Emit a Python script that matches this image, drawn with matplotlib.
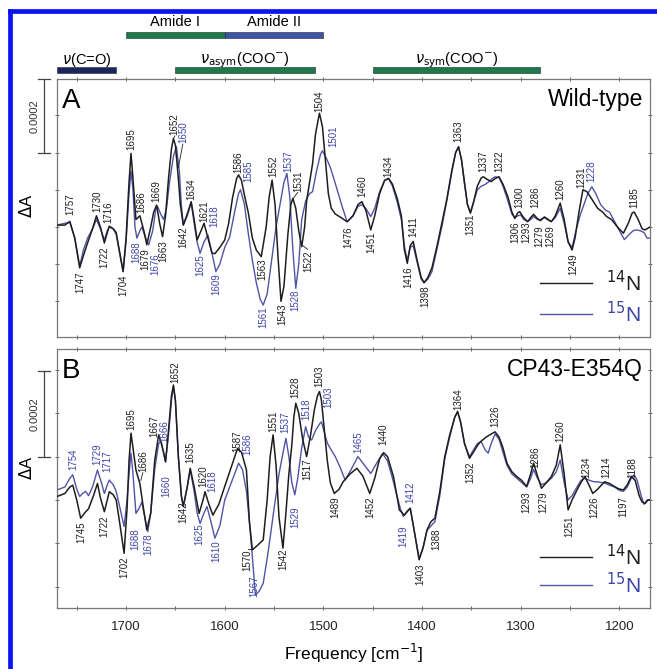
import numpy as np
import matplotlib
matplotlib.use("Agg")
from matplotlib import pyplot as plt
from matplotlib import patches, transforms

plt.rcParams["font.family"] = ["Liberation Sans", "DejaVu Sans"]
plt.rcParams["mathtext.fontset"] = "dejavusans"

# spectra, values in units of 1e-4 (delta A)
wt_freq = [1770, 1762, 1757, 1752, 1747, 1743, 1739, 1734, 1730, 1726, 1722, 1719, 1717, 1713, 1710, 1707,
           1703, 1700, 1697, 1695, 1693, 1690, 1686, 1682, 1679, 1675, 1672, 1669, 1666, 1663, 1660, 1657,
           1654, 1652, 1650, 1647, 1645, 1642, 1638, 1634, 1631, 1628, 1624, 1621, 1617, 1613, 1610, 1605,
           1600, 1596, 1592, 1588, 1586, 1583, 1580, 1576, 1572, 1568, 1563, 1558, 1555, 1552, 1549, 1546,
           1543, 1540, 1536, 1533, 1531, 1528, 1525, 1522, 1519, 1517, 1514, 1511, 1508, 1504, 1501, 1498,
           1495, 1492, 1488, 1482, 1476, 1470, 1465, 1461, 1457, 1452, 1448, 1443, 1438, 1434, 1430, 1425,
           1421, 1418, 1415, 1412, 1409, 1405, 1401, 1398, 1394, 1390, 1385, 1380, 1375, 1370, 1366, 1363,
           1360, 1357, 1354, 1351, 1348, 1344, 1340, 1338, 1334, 1330, 1326, 1322, 1318, 1313, 1309, 1306,
           1303, 1301, 1297, 1293, 1290, 1287, 1283, 1280, 1276, 1272, 1269, 1265, 1260, 1256, 1252, 1248,
           1245, 1241, 1237, 1233, 1228, 1222, 1217, 1213, 1208, 1202, 1196, 1191, 1187, 1185, 1181, 1177,
           1174, 1169]
wt_14n = [0.05, 0.05, 0.15, -0.3, -1.10, -0.75, -0.43, -0.05, 0.30, 0.0, -0.43, -0.15, 0.02, -0.05, -0.15, -0.6,
          -1.2, -0.3, 1.2, 1.98, 1.3, 0.2, 0.3, -0.1, -0.48, 0.0, 0.4, 0.59, 0.1, -0.26, 0.3, 1.3,
          2.1, 2.38, 2.2, 1.3, 0.6, 0.05, 0.35, 0.68, 0.2, -0.35, -0.1, 0.1, -0.3, -0.7, -0.72, -0.55,
          -0.35, 0.1, 0.8, 1.3, 1.40, 1.25, 0.85, 0.37, -0.3, -0.62, -0.80, 0.0, 0.8, 1.26, 0.6, -0.8,
          -2.0, -1.6, -0.2, 0.6, 0.77, 0.5, -0.1, -0.53, 0.0, 0.7, 1.2, 1.7, 2.5, 3.06, 2.7, 1.8,
          0.9, 0.5, 0.35, 0.25, 0.14, 0.3, 0.6, 0.68, 0.45, -0.08, 0.3, 0.9, 1.25, 1.31, 1.15, 0.75,
          0.3, -0.6, -0.98, -0.5, -0.39, -0.9, -1.35, -1.5, -1.35, -1.1, -0.53, 0.1, 0.73, 1.5, 2.0, 2.16,
          1.8, 1.2, 0.6, 0.37, 0.65, 1.1, 1.32, 1.35, 1.28, 1.22, 1.3, 1.35, 1.15, 0.81, 0.4, 0.23,
          0.38, 0.41, 0.25, 0.14, 0.25, 0.34, 0.22, 0.17, 0.27, 0.2, 0.14, 0.3, 0.64, 0.2, -0.4, -0.62,
          -0.3, 0.4, 1.0, 0.95, 0.75, 0.5, 0.4, 0.28, 0.2, 0.0, -0.17, 0.1, 0.38, 0.4, 0.2, -0.05,
          -0.08, 0.0]

wt15_freq = [1770, 1762, 1757, 1752, 1747, 1743, 1739, 1734, 1730, 1726, 1722, 1719, 1717, 1713, 1710, 1707,
             1703, 1700, 1697, 1695, 1693, 1691, 1689, 1686, 1684, 1680, 1677, 1673, 1670, 1668, 1665, 1662,
             1659, 1656, 1652, 1649, 1646, 1644, 1642, 1638, 1634, 1631, 1628, 1625, 1621, 1617, 1613, 1609,
             1605, 1600, 1595, 1590, 1586, 1584, 1580, 1576, 1572, 1568, 1564, 1561, 1557, 1552, 1548, 1544,
             1540, 1537, 1534, 1531, 1528, 1525, 1522, 1518, 1514, 1511, 1507, 1503, 1501, 1497, 1493, 1490,
             1485, 1481, 1476, 1470, 1465, 1461, 1457, 1452, 1448, 1443, 1438, 1434, 1430, 1425, 1421, 1418,
             1415, 1412, 1409, 1405, 1401, 1398, 1394, 1390, 1385, 1380, 1375, 1370, 1366, 1363, 1360, 1357,
             1354, 1351, 1348, 1344, 1340, 1337, 1333, 1329, 1326, 1322, 1318, 1313, 1309, 1306, 1303, 1300,
             1297, 1293, 1290, 1287, 1283, 1280, 1276, 1272, 1269, 1265, 1260, 1256, 1252, 1248, 1244, 1240,
             1236, 1232, 1228, 1224, 1219, 1214, 1210, 1205, 1200, 1195, 1190, 1186, 1183, 1179, 1175, 1172,
             1169]
wt_15n = [0.05, 0.1, 0.12, -0.3, -1.05, -0.6, -0.3, -0.05, 0.2, -0.05, -0.35, -0.1, 0.0, -0.05, -0.2, -0.65,
          -1.2, -0.4, 0.9, 1.5, 1.0, 0.0, -0.3, -0.1, 0.0, -0.3, -0.48, -0.1, 0.45, 0.55, 0.35, 0.2,
          0.5, 1.2, 1.9, 2.16, 1.5, 0.6, 0.05, 0.3, 0.65, 0.1, -0.4, -0.71, -0.4, -0.22, -0.7, -1.2,
          -1.0, -0.55, -0.27, 0.4, 0.9, 1.0, 0.6, -0.2, -0.9, -1.5, -1.95, -2.1, -1.8, -0.8, 0.0, 0.6,
          1.2, 1.44, 0.8, -0.6, -1.65, -1.0, 0.2, 0.7, 0.9, 0.95, 1.5, 1.95, 2.05, 1.85, 1.6, 1.35,
          0.9, 0.55, 0.14, 0.3, 0.55, 0.6, 0.5, 0.28, 0.5, 0.95, 1.25, 1.3, 1.1, 0.65, 0.2, -0.5,
          -0.9, -0.55, -0.5, -0.95, -1.4, -1.5, -1.4, -1.2, -0.6, 0.0, 0.7, 1.45, 2.0, 2.15, 1.8, 1.15,
          0.6, 0.4, 0.65, 1.0, 1.1, 1.13, 1.2, 1.3, 1.35, 1.33, 1.1, 0.7, 0.35, 0.25, 0.3, 0.32,
          0.2, 0.15, 0.2, 0.28, 0.2, 0.2, 0.25, 0.18, 0.15, 0.25, 0.5, 0.1, -0.4, -0.55, -0.1, 0.3,
          0.6, 0.9, 1.08, 0.9, 0.6, 0.45, 0.4, 0.15, -0.1, -0.34, -0.2, -0.1, -0.08, -0.1, -0.15, -0.3,
          -0.3]

mut_freq = [1770, 1762, 1757, 1754, 1750, 1746, 1742, 1738, 1733, 1729, 1726, 1722, 1719, 1717, 1713, 1710,
            1706, 1702, 1699, 1697, 1695, 1693, 1690, 1686, 1683, 1679, 1675, 1671, 1667, 1664, 1660, 1657,
            1654, 1652, 1650, 1647, 1644, 1642, 1638, 1635, 1631, 1626, 1622, 1620, 1616, 1612, 1606, 1599,
            1592, 1587, 1583, 1578, 1575, 1572, 1567, 1561, 1557, 1554, 1551, 1548, 1545, 1541, 1538, 1535,
            1532, 1530, 1528, 1525, 1521, 1517, 1513, 1509, 1506, 1504, 1502, 1499, 1496, 1493, 1489, 1484,
            1480, 1473, 1466, 1460, 1453, 1448, 1443, 1439, 1435, 1429, 1423, 1418, 1412, 1408, 1403, 1399,
            1395, 1391, 1387, 1382, 1377, 1372, 1367, 1364, 1361, 1357, 1352, 1348, 1344, 1341, 1335, 1330,
            1326, 1322, 1318, 1314, 1309, 1304, 1299, 1294, 1290, 1287, 1283, 1279, 1274, 1269, 1264, 1260,
            1256, 1252, 1248, 1243, 1239, 1235, 1231, 1227, 1222, 1218, 1215, 1210, 1205, 1201, 1196, 1192,
            1188, 1184, 1180, 1177, 1174, 1171, 1169]
mut_14n = [0.08, 0.15, 0.3, 0.34, 0.0, -0.42, -0.3, -0.2, 0.1, 0.38, 0.05, -0.27, 0.0, 0.19, 0.12, 0.0,
           -0.6, -1.23, -0.2, 0.9, 1.54, 1.2, 0.69, 0.38, -0.1, -0.69, -0.3, 0.9, 1.5, 1.3, 0.88, 1.6,
           2.4, 2.65, 2.3, 1.0, 0.1, -0.15, 0.3, 0.73, 0.3, -0.31, 0.0, 0.19, -0.1, -0.35, -0.1, 0.38,
           0.85, 1.19, 1.1, 0.69, -0.5, -1.15, -1.05, -0.92, 0.0, 1.0, 1.5, 0.8, -0.4, -1.11, -0.3, 0.6,
           1.27, 1.9, 2.23, 2.0, 1.4, 1.0, 1.5, 2.1, 2.4, 2.5, 2.3, 1.6, 0.9, 0.4, 0.15, 0.25,
           0.42, 0.6, 0.73, 0.55, 0.15, 0.5, 0.95, 1.09, 1.0, 0.54, -0.23, -0.35, -0.19, -0.7, -1.38, -1.1,
           -0.69, -0.5, -0.42, 0.2, 1.0, 1.5, 1.9, 2.03, 1.8, 1.3, 0.96, 1.1, 1.25, 1.34, 1.45, 1.52,
           1.57, 1.45, 1.2, 0.85, 0.65, 0.54, 0.45, 0.31, 0.6, 0.85, 0.55, 0.27, 0.4, 0.54, 0.8, 1.27,
           0.6, -0.23, 0.0, 0.23, 0.4, 0.54, 0.35, 0.15, 0.25, 0.35, 0.42, 0.38, 0.31, 0.26, 0.23, 0.35,
           0.54, 0.45, 0.1, -0.05, -0.08, 0.0, 0.0]

mut15_freq = [1770, 1762, 1757, 1754, 1750, 1747, 1744, 1741, 1738, 1734, 1729, 1725, 1722, 1719, 1717, 1713,
              1710, 1706, 1702, 1699, 1697, 1695, 1693, 1690, 1687, 1684, 1681, 1678, 1675, 1671, 1667, 1665,
              1662, 1660, 1657, 1654, 1652, 1650, 1647, 1644, 1642, 1638, 1635, 1631, 1628, 1625, 1621, 1618,
              1614, 1610, 1605, 1600, 1595, 1590, 1586, 1582, 1578, 1575, 1572, 1569, 1565, 1561, 1556, 1550,
              1545, 1540, 1538, 1535, 1532, 1529, 1526, 1522, 1518, 1515, 1512, 1508, 1504, 1502, 1499, 1496,
              1492, 1488, 1483, 1478, 1472, 1465, 1460, 1452, 1446, 1440, 1435, 1430, 1426, 1422, 1419, 1415,
              1412, 1408, 1403, 1399, 1395, 1391, 1387, 1382, 1377, 1372, 1367, 1364, 1361, 1357, 1352, 1348,
              1344, 1340, 1336, 1333, 1330, 1326, 1322, 1318, 1314, 1309, 1304, 1299, 1294, 1290, 1287, 1283,
              1279, 1274, 1269, 1264, 1260, 1256, 1252, 1248, 1243, 1239, 1235, 1230, 1226, 1222, 1218, 1214,
              1210, 1205, 1200, 1196, 1192, 1188, 1185, 1182, 1178, 1175, 1172, 1169]
mut_15n = [0.23, 0.3, 0.5, 0.58, 0.25, 0.08, 0.15, 0.2, 0.1, 0.3, 0.69, 0.4, 0.15, 0.35, 0.46, 0.35,
           0.2, -0.2, -0.61, 0.0, 0.6, 1.08, 0.6, -0.31, -0.2, -0.05, -0.4, -0.73, -0.3, 0.7, 1.3, 1.35,
           1.1, 0.88, 1.5, 2.3, 2.6, 2.3, 1.0, 0.1, -0.15, 0.3, 0.7, 0.2, -0.3, -0.54, -0.3, -0.15,
           -0.5, -0.88, -0.6, 0.0, 0.3, 0.6, 0.85, 0.7, 0.2, -0.5, -1.3, -2.19, -2.1, -1.92, -1.2, -0.2,
           0.6, 1.2, 1.42, 1.0, 0.4, 0.12, 0.5, 1.2, 1.69, 1.45, 1.38, 1.6, 1.75, 1.8, 1.55, 1.31,
           1.15, 1.0, 0.75, 0.46, 0.7, 1.0, 0.85, 0.61, 0.85, 1.07, 0.9, 0.5, 0.15, -0.2, -0.38, -0.25,
           -0.19, -0.7, -1.35, -1.1, -0.7, -0.6, -0.5, 0.1, 0.95, 1.45, 1.9, 2.05, 1.8, 1.3, 1.0, 1.15,
           1.3, 1.34, 1.15, 1.08, 1.3, 1.52, 1.4, 1.1, 0.8, 0.6, 0.5, 0.4, 0.3, 0.5, 0.7, 0.5,
           0.35, 0.4, 0.5, 0.65, 0.92, 0.4, 0.0, 0.1, 0.3, 0.45, 0.5, 0.45, 0.42, 0.42, 0.4, 0.38,
           0.34, 0.3, 0.22, 0.2, 0.3, 0.5, 0.58, 0.45, 0.1, -0.1, 0.0, 0.0]

# band assignments shown above panel A (freq ranges)
band_names = ["Amide I", "Amide II", r"$\nu$(C=O)", r"$\nu_{\rm asym}$(COO$^{-}$)", r"$\nu_{\rm sym}$(COO$^{-}$)"]
band_ranges = [(1700, 1600), (1600, 1500), (1770, 1710), (1650, 1509), (1450, 1280)]

BLACK = "#1e1e1e"
BLUE = "#4f54a6"
LBLUE = "#3c44a8"

# peak labels: (text, freq, value, direction, isotope)
peaks_a = [
    ("1757", 1756.4, 0.32, "up", 14), ("1730", 1729.6, 0.41, "up", 14), ("1716", 1717.6, 0.10, "up", 14),
    ("1695", 1695, 2.07, "up", 14), ("1686", 1684.5, 0.37, "up", 14), ("1669", 1669.3, 0.68, "up", 14),
    ("1652", 1651, 2.47, "up", 14), ("1634", 1634.2, 0.72, "up", 14), ("1621", 1620.7, 0.14, "up", 14),
    ("1586", 1586.5, 1.44, "up", 14), ("1552", 1551.2, 1.35, "up", 14), ("1531", 1525.3, 0.95, "up", 14),
    ("1504", 1504, 3.1, "up", 14), ("1460", 1461, 0.81, "up", 14), ("1434", 1434.2, 1.35, "up", 14),
    ("1411", 1409, -0.26, "up", 14), ("1363", 1363.4, 2.29, "up", 14), ("1337", 1338, 1.49, "up", 14),
    ("1322", 1322, 1.49, "up", 14), ("1300", 1301, 0.5, "up", 14), ("1286", 1285.7, 0.5, "up", 14),
    ("1260", 1260, 0.73, "up", 14), ("1231", 1238.5, 1.04, "up", 14), ("1185", 1184.5, 0.5, "up", 14),
    ("1650", 1641.5, 2.25, "up", 15), ("1618", 1610.6, 0.01, "up", 15), ("1585", 1576.5, 1.22, "up", 15),
    ("1537", 1535.4, 1.49, "up", 15), ("1501", 1490, 2.16, "up", 15), ("1228", 1228.4, 1.22, "up", 15),
    ("1747", 1746, -1.2, "down", 14), ("1722", 1722, -0.53, "down", 14), ("1704", 1703, -1.29, "down", 14),
    ("1679", 1680, -0.57, "down", 14), ("1663", 1662.6, -0.35, "down", 14), ("1642", 1642.3, 0.01, "down", 14),
    ("1563", 1562.4, -0.84, "down", 14), ("1543", 1542, -2.05, "down", 14), ("1522", 1515.2, -0.62, "down", 14),
    ("1476", 1474.7, 0.01, "down", 14), ("1451", 1451, -0.13, "down", 14), ("1416", 1414, -1.07, "down", 14),
    ("1398", 1397, -1.56, "down", 14), ("1351", 1351.5, 0.37, "down", 14), ("1306", 1306, 0.14, "down", 14),
    ("1293", 1294.8, 0.14, "down", 14), ("1279", 1281, 0.05, "down", 14), ("1269", 1270.5, 0.05, "down", 14),
    ("1249", 1247, -0.71, "down", 14),
    ("1688", 1689.6, -0.39, "down", 15), ("1676", 1670.5, -0.71, "down", 15), ("1625", 1624.8, -0.75, "down", 15),
    ("1609", 1608.6, -1.25, "down", 15), ("1561", 1560.7, -2.14, "down", 15), ("1528", 1528.6, -1.69, "down", 15),
]
peaks_b = [
    ("1695", 1695, 1.61, "up", 14), ("1686", 1683, 0.65, "up", 14), ("1667", 1671.4, 1.46, "up", 14),
    ("1652", 1650, 2.69, "up", 14), ("1635", 1634.8, 0.85, "up", 14), ("1620", 1622, 0.31, "up", 14),
    ("1587", 1587, 1.11, "up", 14), ("1551", 1551, 1.57, "up", 14), ("1528", 1528, 2.34, "up", 14),
    ("1503", 1504, 2.61, "up", 14), ("1440", 1439, 1.27, "up", 14), ("1364", 1363.4, 2.07, "up", 14),
    ("1326", 1326, 1.69, "up", 14), ("1286", 1285.7, 0.73, "up", 14), ("1260", 1260, 1.34, "up", 14),
    ("1234", 1233.4, 0.5, "up", 14), ("1214", 1213, 0.5, "up", 14), ("1188", 1186.8, 0.5, "up", 14),
    ("1754", 1753, 0.69, "up", 15), ("1729", 1729.4, 0.81, "up", 15), ("1717", 1719, 0.65, "up", 15),
    ("1666", 1661, 1.34, "up", 15), ("1618", 1612.5, 0.19, "up", 15), ("1586", 1577.5, 1.04, "up", 15),
    ("1537", 1538.8, 1.54, "up", 15), ("1518", 1517.5, 1.84, "up", 15), ("1503", 1495, 2.11, "up", 15),
    ("1465", 1464.6, 1.08, "up", 15), ("1412", 1412, -0.08, "up", 15),
    ("1745", 1745.5, -0.5, "down", 14), ("1722", 1722, -0.35, "down", 14), ("1702", 1701.7, -1.31, "down", 14),
    ("1642", 1642.3, -0.04, "down", 14), ("1570", 1577.5, -1.15, "down", 14), ("1542", 1541, -1.11, "down", 14),
    ("1517", 1516.8, 0.96, "down", 14), ("1489", 1488, 0.08, "down", 14), ("1452", 1452.7, 0.08, "down", 14),
    ("1403", 1402, -1.46, "down", 14), ("1388", 1385.2, -0.65, "down", 14), ("1352", 1351.5, 0.88, "down", 14),
    ("1293", 1294, 0.19, "down", 14), ("1279", 1277.3, 0.19, "down", 14), ("1251", 1251, -0.35, "down", 14),
    ("1226", 1225, 0.08, "down", 14), ("1197", 1196.4, 0.08, "down", 14),
    ("1688", 1690.6, -0.65, "down", 15), ("1678", 1677.7, -0.77, "down", 15), ("1660", 1659.6, 0.58, "down", 15),
    ("1625", 1625.8, -0.54, "down", 15), ("1610", 1608.6, -0.92, "down", 15), ("1567", 1570, -1.73, "down", 15),
    ("1529", 1528.6, -0.15, "down", 15), ("1419", 1419, -0.58, "down", 15),
]
# short leader lines from a shifted label to its band: (label end, band point)
leaders_a = [((1526, 0.93), (1530.5, 0.77)), ((1516, -0.6), (1521, -0.5)),
             ((1650.5, 2.45), (1652, 2.38)), ((1642.5, 2.23), (1647, 1.6))]
leaders_b = [((1576.5, -1.13), (1572.5, -1.13)), ((1683, 0.63), (1685, 0.45))]

W, H = 657, 669
fig = plt.figure(figsize=(W / 100, H / 100), dpi=100)


def fx(px):
    return px / W


def fy(py):
    return 1 - py / H


# blue frame (top and left edges visible)
fig.add_artist(plt.Line2D([fx(10), fx(10)], [0, fy(10.5)], color="#0a14f5", lw=3.4, transform=fig.transFigure))
fig.add_artist(plt.Line2D([fx(10), 1], [fy(10.5), fy(10.5)], color="#0a14f5", lw=3.4, transform=fig.transFigure))

L, R = 57, 650
axa = fig.add_axes([fx(L), fy(337), fx(R - L), (337 - 79) / H])
axb = fig.add_axes([fx(L), fy(608), fx(R - L), (608 - 349) / H], sharex=axa)
axt = fig.add_axes([fx(L), fy(79), fx(R - L), (79 - 10) / H], sharex=axa)


def panel(ax, f14, y14, f15, y15, ylim, peaks, leaders, letter, name, bar_lo, label_y):
    ax.plot(f14, y14, color=BLACK, lw=1.1, zorder=3)
    ax.plot(f15, y15, color=BLUE, lw=1.0, zorder=2)
    ax.set_ylim(*ylim)
    ax.set_yticks([-2, -1, 0, 1, 2, 3])
    ax.set_yticklabels([])
    ax.tick_params(axis="both", direction="inout", length=3, width=0.7, color="#666666",
                   top=True, right=True, labelsize=9.5, labelcolor="#222222", pad=8)
    for s in ax.spines.values():
        s.set_color("#777777")
        s.set_linewidth(0.9)
    for txt, f, v, d, iso in peaks:
        ax.text(f, v, txt, rotation=90, fontsize=7, ha="center",
                va="bottom" if d == "up" else "top",
                color=BLACK if iso == 14 else LBLUE, zorder=4)
    for (x0, y0), (x1, y1) in leaders:
        ax.plot([x0, x1], [y0, y1], color=BLACK, lw=0.6, zorder=4)
    ax.text(0.008, 0.965, letter, transform=ax.transAxes, fontsize=20, va="top", ha="left")
    ax.text(0.988, 0.965, name, transform=ax.transAxes, fontsize=16.5, va="top", ha="right")
    # scale bar
    tr = transforms.blended_transform_factory(ax.transAxes, ax.transData)
    xb = (44 - L) / (R - L)
    ax.plot([xb, xb], [bar_lo, bar_lo + 2], color="#444444", lw=0.9, transform=tr, clip_on=False)
    for yy in (bar_lo, bar_lo + 2):
        ax.plot([(38 - L) / (R - L), (50 - L) / (R - L)], [yy, yy], color="#444444", lw=0.9,
                transform=tr, clip_on=False)
    ax.text((35 - L) / (R - L), bar_lo + 1, "0.0002", rotation=90, fontsize=8, va="center",
            ha="center", transform=tr, color="#333333")
    ax.text((27 - L) / (R - L), label_y, r"$\Delta$A", rotation=90, fontsize=12, va="center",
            ha="center", transform=ax.transAxes)
    return ax


panel(axa, wt_freq, wt_14n, wt15_freq, wt_15n, (-2.96, 3.98), peaks_a, leaders_a, "A", "Wild-type", 1.98, 0.51)
panel(axb, mut_freq, mut_14n, mut15_freq, mut_15n, (-2.49, 3.48), peaks_b, leaders_b, "B", "CP43-E354Q", 0.98, 0.54)

axa.set_xlim(1770, 1169)
axa.set_xticks([1700, 1600, 1500, 1400, 1300, 1200])
axa.set_xticks([1750, 1650, 1550, 1450, 1350, 1250], minor=True)
for ax in (axa, axb):
    ax.tick_params(axis="x", which="minor", direction="inout", length=3, width=0.7, color="#666666",
                   top=True)
plt.setp(axa.get_xticklabels(), visible=False)
axb.set_xlabel("Frequency [cm$^{-1}$]", fontsize=12.5, labelpad=6)

# legends
for ax, y1, y2 in ((axa, 0.209, 0.089), (axb, 0.197, 0.089)):
    x0, x1 = (540 - L) / (R - L), (592 - L) / (R - L)
    ax.plot([x0, x1], [y1, y1], color=BLACK, lw=1.0, transform=ax.transAxes)
    ax.plot([x0, x1], [y2, y2], color=BLUE, lw=1.0, transform=ax.transAxes)
    ax.text(0.925, y1, r"$^{14}$N", transform=ax.transAxes, fontsize=15, va="center", ha="left",
            color=BLACK)
    ax.text(0.925, y2, r"$^{15}$N", transform=ax.transAxes, fontsize=15, va="center", ha="left",
            color=LBLUE)

# band assignment bars on top
axt.set_ylim(79, 10)
axt.axis("off")
band_y = [35, 35, 70, 70, 70]
band_col = ["#1d7a4c", "#3d55a6", "#1b275e", "#1d7a4c", "#1d7a4c"]
text_y = [22, 22, 60, 60, 60]
for name, (f0, f1), yb, col, ty in zip(band_names, band_ranges, band_y, band_col, text_y):
    axt.add_patch(patches.Rectangle((f1, yb - 3), f0 - f1, 6, facecolor=col, edgecolor="#222222",
                                    lw=0.4, clip_on=False))
    axt.text((f0 + f1) / 2, ty, name, ha="center", va="center", fontsize=10.5)

fig.savefig("out.png", dpi=100)
